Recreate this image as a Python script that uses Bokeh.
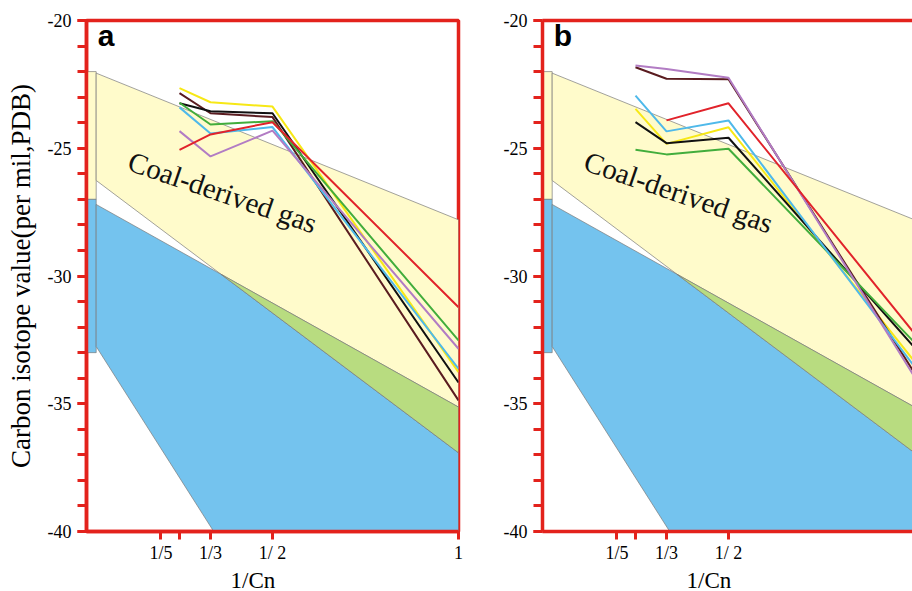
import json
from bokeh.plotting import figure
from bokeh.models import Range1d, FixedTicker, LinearAxis, Label, Title, CustomJSTickFormatter
from bokeh.layouts import row
from bokeh.embed import file_html
from bokeh.resources import INLINE

# ---------------- data ----------------
# x positions: 1/Cn for C4, C3, C2, C1
CARBON_X = [1 / 4, 1 / 3, 1 / 2, 1.0]

X_TICKS = [1 / 5, 1 / 4, 1 / 3, 1 / 2, 1.0]
X_TICK_LABELS = ["1/5", "", "1/3", "1/ 2", "1"]
Y_MAJOR_TICKS = [-40, -35, -30, -25, -20]
Y_MINOR_TICKS = list(range(-40, -19))

SERIES_NAMES = ["yellow", "brown", "black", "green", "blue", "purple", "red"]
SERIES_COLORS = {
    "yellow": "#f7e816",
    "brown": "#5a1c20",
    "black": "#111111",
    "green": "#42ad3c",
    "blue": "#4fb9ea",
    "purple": "#b27cc4",
    "red": "#e1232b",
}

# panel a: delta13C (per mil) at C4, C3, C2, C1
A_YELLOW = [-22.65, -23.20, -23.37, -33.76]
A_BROWN = [-22.84, -23.63, -23.78, -34.87]
A_BLACK = [-23.24, -23.55, -23.63, -34.17]
A_GREEN = [-23.22, -24.07, -23.94, -32.52]
A_BLUE = [-23.40, -24.42, -24.17, -33.63]
A_PURPLE = [-24.33, -25.32, -24.31, -32.85]
A_RED = [-25.06, -24.46, -23.98, -31.22]

# panel b
B_YELLOW = [-23.46, -24.83, -24.18, -33.35]
B_BROWN = [-21.83, -22.28, -22.30, -33.80]
B_BLACK = [-23.98, -24.80, -24.59, -32.80]
B_GREEN = [-25.06, -25.24, -25.02, -32.60]
B_BLUE = [-22.94, -24.34, -23.91, -33.55]
B_PURPLE = [-21.76, -21.90, -22.24, -33.95]
B_RED = [float("nan"), -23.91, -23.24, -32.25]

PANEL_A = dict(zip(SERIES_NAMES, [A_YELLOW, A_BROWN, A_BLACK, A_GREEN, A_BLUE, A_PURPLE, A_RED]))
PANEL_B = dict(zip(SERIES_NAMES, [B_YELLOW, B_BROWN, B_BLACK, B_GREEN, B_BLUE, B_PURPLE, B_RED]))

# background genetic-type fields (boundary lines, x in 1/Cn, y in per mil)
STRIP_X = [0.0, 0.026]
STRIP_COAL_Y = [-22.0, -27.0]
STRIP_OIL_Y = [-27.0, -33.0]
FIELD_X = [0.026, 1.0]
TOP_LINE_Y = [-22.06, -27.80]
LINE_A_Y = [-26.26, -36.92]   # steep boundary
LINE_B_Y = [-27.20, -35.13]   # shallow boundary
OIL_LEFT_X = [0.026, 0.342]
OIL_LEFT_Y = [-32.76, -40.0]

COAL_FILL = "#fffbcb"
OIL_FILL = "#74c3ee"
MIX_FILL = "#b8dc80"
EDGE = "#7a7a7a"
RED = "#e3221c"


def intersect():
    x0, x1 = FIELD_X
    sa = (LINE_A_Y[1] - LINE_A_Y[0]) / (x1 - x0)
    sb = (LINE_B_Y[1] - LINE_B_Y[0]) / (x1 - x0)
    t = (LINE_B_Y[0] - LINE_A_Y[0]) / (sa - sb)
    return x0 + t, LINE_A_Y[0] + sa * t


def style_axis(ax):
    ax.axis_line_color = RED
    ax.axis_line_width = 3.5
    ax.major_tick_line_color = RED
    ax.major_tick_line_width = 3
    ax.minor_tick_line_color = RED
    ax.minor_tick_line_width = 3
    ax.major_tick_in = 0
    ax.minor_tick_in = 0
    ax.major_label_text_font = "Liberation Serif"
    ax.major_label_text_font_size = "18px"
    ax.major_label_text_color = "black"


def build(panel, letter, x_end, frame_w, border_l, border_r, right_border, y_title=None):
    p = figure(
        frame_width=frame_w, frame_height=511,
        x_range=Range1d(0, x_end), y_range=Range1d(-40, -20),
        min_border_left=border_l, min_border_right=border_r,
        min_border_top=20, min_border_bottom=60,
        x_axis_type=None, y_axis_type=None,
        output_backend="svg", toolbar_location=None,
        background_fill_color="white", border_fill_color="white",
    )
    if right_border:
        p.outline_line_color = RED
        p.outline_line_width = 3.5
    else:
        p.outline_line_color = None
        top = LinearAxis(ticker=FixedTicker(ticks=[]))
        style_axis(top)
        top.major_tick_out = 0
        top.minor_tick_out = 0
        top.major_label_text_font_size = "0px"
        p.add_layout(top, "above")

    xi, yi = intersect()
    x0, x1 = FIELD_X
    # left strip
    p.patch([STRIP_X[0], STRIP_X[1], STRIP_X[1], STRIP_X[0]],
            [STRIP_COAL_Y[0], STRIP_COAL_Y[0], STRIP_COAL_Y[1], STRIP_COAL_Y[1]],
            fill_color=COAL_FILL, line_color=EDGE, line_width=0.7)
    p.patch([STRIP_X[0], STRIP_X[1], STRIP_X[1], STRIP_X[0]],
            [STRIP_OIL_Y[0], STRIP_OIL_Y[0], STRIP_OIL_Y[1], STRIP_OIL_Y[1]],
            fill_color=OIL_FILL, line_color=EDGE, line_width=0.7)
    # coal-derived field
    p.patch([x0, x1, x1, xi, x0],
            [TOP_LINE_Y[0], TOP_LINE_Y[1], LINE_B_Y[1], yi, LINE_A_Y[0]],
            fill_color=COAL_FILL, line_color=EDGE, line_width=0.7)
    # oil-type field
    p.patch([x0, xi, x1, x1, OIL_LEFT_X[1], OIL_LEFT_X[0]],
            [LINE_B_Y[0], yi, LINE_A_Y[1], -40, OIL_LEFT_Y[1], OIL_LEFT_Y[0]],
            fill_color=OIL_FILL, line_color=EDGE, line_width=0.7)
    # mixed field
    p.patch([xi, x1, x1], [yi, LINE_B_Y[1], LINE_A_Y[1]],
            fill_color=MIX_FILL, line_color=EDGE, line_width=0.7)

    for name in SERIES_NAMES:
        p.line(CARBON_X, panel[name], line_color=SERIES_COLORS[name], line_width=2)

    yax = LinearAxis(ticker=FixedTicker(ticks=Y_MAJOR_TICKS, minor_ticks=Y_MINOR_TICKS))
    style_axis(yax)
    yax.major_tick_out = 9
    yax.minor_tick_out = 9
    yax.major_label_standoff = 6
    yax.formatter = CustomJSTickFormatter(code="return tick.toFixed(0);")
    if y_title:
        yax.axis_label = y_title
        yax.axis_label_text_font = "Liberation Serif"
        yax.axis_label_text_font_size = "27px"
        yax.axis_label_text_font_style = "normal"
        yax.axis_label_text_color = "black"
        yax.axis_label_standoff = 9
    p.add_layout(yax, "left")

    xax = LinearAxis(ticker=FixedTicker(ticks=X_TICKS, minor_ticks=[]))
    style_axis(xax)
    xax.major_tick_out = 8
    xax.minor_tick_out = 0
    xax.major_label_standoff = 3
    xax.formatter = CustomJSTickFormatter(code=(
        "const t = %s; const l = %s;"
        "for (let i = 0; i < t.length; i++) { if (Math.abs(t[i] - tick) < 1e-6) return l[i]; }"
        "return '';" % (json.dumps(X_TICKS), json.dumps(X_TICK_LABELS))))
    p.add_layout(xax, "below")

    p.add_layout(Title(text="1/Cn", align="left", offset=144, standoff=0,
                       text_font="Liberation Serif", text_font_size="23px",
                       text_font_style="normal", text_color="black"), "below")

    p.add_layout(Label(x=0.366, y=-26.72, text="Coal-derived gas", angle=-0.33,
                       text_align="center", text_baseline="middle",
                       text_font="Liberation Serif", text_font_size="29px",
                       text_color="#111111"))
    p.add_layout(Label(x=0.03, y=-20.6, text=letter, text_align="left",
                       text_baseline="alphabetic", text_font="Liberation Sans",
                       text_font_style="bold", text_font_size="30px", text_color="black"))
    return p


pa = build(PANEL_A, "a", 1.0, 372, 86, 12, True, "Carbon isotope value(per mil,PDB)")
pb = build(PANEL_B, "b", 370 / 372, 370, 72, 0, False)

layout = row(pa, pb)
open("out.html", "w").write(file_html(layout, INLINE))
